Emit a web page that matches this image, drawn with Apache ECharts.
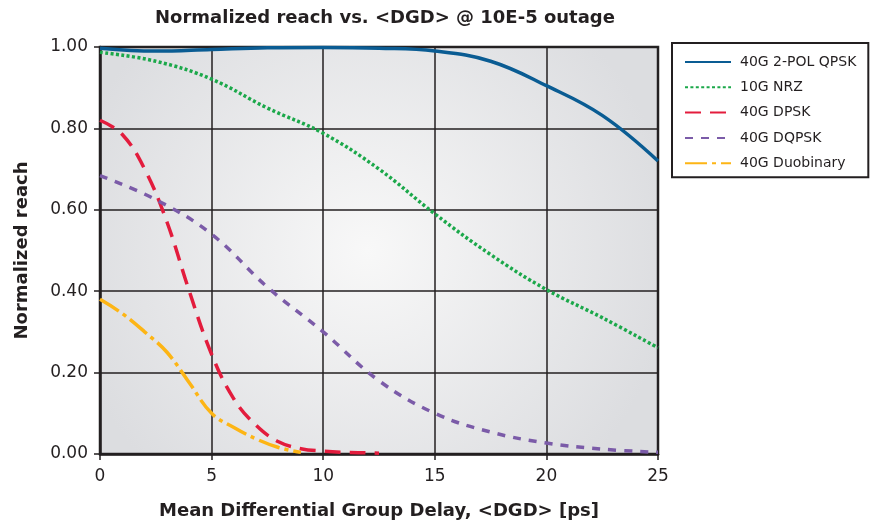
<!DOCTYPE html>
<html>
<head>
<meta charset="utf-8">
<script src="https://cdn.jsdelivr.net/npm/echarts@6/dist/echarts.min.js"></script>
<style>
  html, body { margin: 0; padding: 0; background: #fff; }
  #chart { width: 873px; height: 525px; }
</style>
</head>
<body>
<div id="chart"></div>
<script>
// values
const qpskX = [0, 2.5, 5, 7.5, 10, 12.5, 15, 17.5, 20, 22.5, 25]
const qpskY = [0.997, 0.99, 0.994, 0.998, 0.999, 0.997, 0.99, 0.965, 0.905, 0.832, 0.72]

const nrzX = [0, 2.5, 5, 7.5, 10, 12.5, 15, 17.5, 20, 22.5, 25]
const nrzY = [0.987, 0.965, 0.921, 0.85, 0.788, 0.70, 0.59, 0.49, 0.404, 0.335, 0.261]

const dpskX = [0, 1, 2, 3, 4, 5, 6, 7, 8, 9, 10, 11, 12, 12.5]
const dpskY = [0.82, 0.785, 0.70, 0.57, 0.40, 0.245, 0.135, 0.07, 0.03, 0.013, 0.007, 0.004, 0.003, 0.002]

const dqpskX = [0, 2.5, 5, 7.5, 10, 12.5, 15, 17.5, 20, 22.5, 25]
const dqpskY = [0.684, 0.625, 0.54, 0.41, 0.30, 0.18, 0.10, 0.054, 0.027, 0.012, 0.004]

const duoX = [0, 1, 2, 3, 4, 5, 6, 7, 8, 9]
const duoY = [0.38, 0.345, 0.30, 0.25, 0.175, 0.10, 0.065, 0.037, 0.016, 0.004]

const xTicks = [0, 5, 10, 15, 20, 25]
const yTicks = [0, 0.2, 0.4, 0.6, 0.8, 1.0]

const pairs = (xs, ys) => xs.map((x, i) => [x, ys[i]])

const font = '"DejaVu Sans", sans-serif'
const ink = '#231f20'

const makeLine = (name, xs, ys, color, type) => ({
  name,
  type: 'line',
  data: pairs(xs, ys),
  smooth: 0.4,
  symbol: 'none',
  lineStyle: { color, width: 3.5, type, cap: 'butt' },
  itemStyle: { color },
  z: 3
})

const chart = echarts.init(document.getElementById('chart'))
chart.setOption({
  animation: false,
  textStyle: { fontFamily: font },
  title: {
    text: 'Normalized reach vs. <DGD> @ 10E-5 outage',
    left: 380,
    textAlign: 'center',
    top: 4,
    textStyle: { fontSize: 18, fontWeight: 'bold', color: ink, fontFamily: font }
  },
  legend: {
    orient: 'vertical',
    left: 672,
    top: 43,
    width: 198,
    padding: [12, 12, 7, 12],
    itemGap: 11.3,
    itemWidth: 46,
    itemHeight: 14,
    borderColor: ink,
    borderWidth: 2,
    backgroundColor: '#fff',
    itemStyle: { opacity: 0 },
    textStyle: { fontSize: 14, color: ink, fontFamily: font, width: 125, padding: [0, 0, 0, 4] },
    data: ['40G 2-POL QPSK', '10G NRZ', '40G DPSK', '40G DQPSK', '40G Duobinary']
  },
  grid: {
    left: 100,
    right: 215,
    top: 47,
    bottom: 70,
    show: true,
    borderColor: '#2b2b2b',
    borderWidth: 2.5,
    backgroundColor: new echarts.graphic.RadialGradient(0.48, 0.5, 0.75, [
      { offset: 0, color: '#f8f8f8' },
      { offset: 1, color: '#dcdde0' }
    ])
  },
  xAxis: {
    type: 'value',
    min: xTicks[0],
    max: xTicks[xTicks.length - 1],
    interval: 5,
    name: 'Mean Differential Group Delay, <DGD> [ps]',
    nameLocation: 'middle',
    nameGap: 48,
    nameTextStyle: { fontSize: 18, fontWeight: 'bold', color: ink },
    axisLine: { lineStyle: { color: ink, width: 2.5 } },
    axisTick: { show: true, length: 6, lineStyle: { color: ink, width: 1.5 } },
    axisLabel: { fontSize: 17, color: ink, margin: 14 },
    splitLine: { show: true, lineStyle: { color: ink, width: 1.5 } }
  },
  yAxis: {
    type: 'value',
    min: yTicks[0],
    max: yTicks[yTicks.length - 1],
    interval: 0.2,
    name: 'Normalized reach',
    nameLocation: 'middle',
    nameGap: 69,
    nameTextStyle: { fontSize: 18, fontWeight: 'bold', color: ink },
    axisLine: { show: true, lineStyle: { color: ink, width: 2.5 } },
    axisTick: { show: true, length: 6, lineStyle: { color: ink, width: 1.5 } },
    axisLabel: { fontSize: 17, color: ink, margin: 12, formatter: v => v.toFixed(2) },
    splitLine: { show: true, lineStyle: { color: ink, width: 1.5 } }
  },
  series: [
    makeLine('40G 2-POL QPSK', qpskX, qpskY, '#0a5c93', 'solid'),
    makeLine('10G NRZ', nrzX, nrzY, '#1ba84a', [3, 2.4]),
    makeLine('40G DPSK', dpskX, dpskY, '#e31c3d', [16, 9]),
    makeLine('40G DQPSK', dqpskX, dqpskY, '#7b5ba8', [8, 8]),
    makeLine('40G Duobinary', duoX, duoY, '#fdb515', [22, 5, 4, 5])
  ]
})
</script>
</body>
</html>
